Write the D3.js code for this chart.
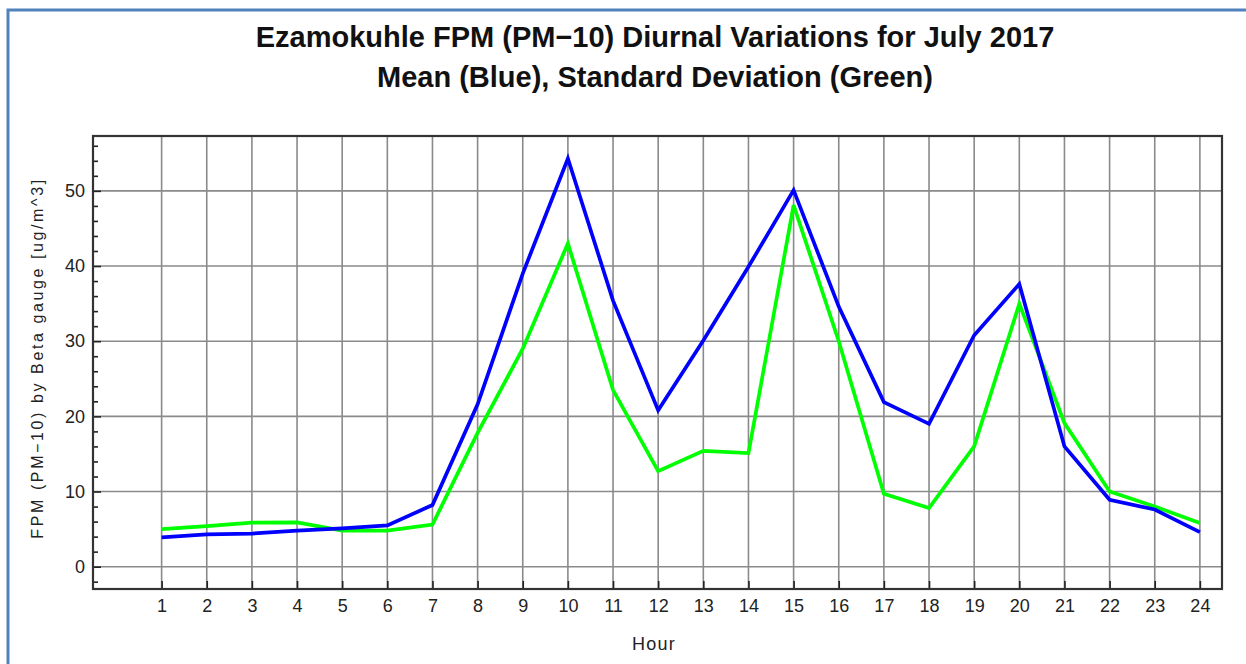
<!DOCTYPE html>
<html>
<head>
<meta charset="utf-8">
<script src="https://cdn.jsdelivr.net/npm/d3@7"></script>
<style>
  body { margin: 0; background: #fff; }
  svg { display: block; font-family: "Liberation Sans", Arial, sans-serif; }
</style>
</head>
<body>
<svg id="chart" width="1246" height="664"></svg>
<script>
const hours = [1,2,3,4,5,6,7,8,9,10,11,12,13,14,15,16,17,18,19,20,21,22,23,24];
const meanValues = [3.9, 4.3, 4.4, 4.8, 5.1, 5.5, 8.2, 21.6, 39.0, 54.3, 35.4, 20.8, 30.1, 39.9, 50.1, 34.6, 21.9, 19.0, 30.8, 37.6, 16.0, 8.9, 7.6, 4.6];
const stdValues  = [5.0, 5.4, 5.85, 5.9, 4.8, 4.8, 5.6, 17.8, 29.0, 43.0, 23.5, 12.7, 15.4, 15.1, 48.1, 30.0, 9.7, 7.8, 16.0, 35.0, 19.1, 10.0, 8.0, 5.8];
const yTickValues = [0, 10, 20, 30, 40, 50];
const yMinorTickValues = [-2, 2, 4, 6, 8, 12, 14, 16, 18, 22, 24, 26, 28, 32, 34, 36, 38, 42, 44, 46, 48, 52, 54, 56];
const titleLines = ["Ezamokuhle FPM (PM\u221210) Diurnal Variations for July 2017", "Mean (Blue), Standard Deviation (Green)"];
const xLabel = "Hour";
const yLabel = "FPM (PM\u221210) by Beta gauge  [ug/m^3]";

const svg = d3.select("#chart");
const L = 93, R = 1222, T = 136, B = 589;

// outer blue frame
svg.append("rect").attr("x", 8).attr("y", 10).attr("width", 1260).attr("height", 700)
  .attr("fill", "none").attr("stroke", "#4f81bd").attr("stroke-width", 3);

const x = d3.scaleLinear().domain([-0.52, 24.49]).range([L, R]);
const y = d3.scaleLinear().domain([-2.97, 57.3]).range([B, T]);

// grid
const g = svg.append("g");
g.selectAll(".vgrid").data(hours).join("line")
  .attr("x1", d => x(d)).attr("x2", d => x(d)).attr("y1", T).attr("y2", B)
  .attr("stroke", "#8a8a8a").attr("stroke-width", 1.6);
g.selectAll(".hgrid").data(yTickValues).join("line")
  .attr("x1", L).attr("x2", R).attr("y1", d => y(d)).attr("y2", d => y(d))
  .attr("stroke", "#8a8a8a").attr("stroke-width", 1.6);

const tickFont = "Liberation Sans, Arial, sans-serif";

// axes
const xAxis = d3.axisBottom(x).tickValues(hours).tickSize(-8).tickPadding(10).tickFormat(d3.format("d"));
const xg = svg.append("g").attr("transform", `translate(0,${B})`).call(xAxis);
xg.select(".domain").remove();
xg.selectAll(".tick line").attr("stroke", "#222").attr("stroke-width", 1.6);
xg.selectAll(".tick text").attr("font-size", 18).attr("fill", "#222").attr("font-family", tickFont);

const yAxis = d3.axisLeft(y).tickValues(yTickValues).tickSize(-8).tickPadding(8).tickFormat(d3.format("d"));
const yg = svg.append("g").attr("transform", `translate(${L},0)`).call(yAxis);
yg.select(".domain").remove();
yg.selectAll(".tick line").attr("stroke", "#222").attr("stroke-width", 1.6);
yg.selectAll(".tick text").attr("font-size", 18).attr("fill", "#222").attr("font-family", tickFont);

const yMinor = d3.axisLeft(y).tickValues(yMinorTickValues).tickSize(-5).tickFormat("");
const ym = svg.append("g").attr("transform", `translate(${L},0)`).call(yMinor);
ym.select(".domain").remove();
ym.selectAll(".tick line").attr("stroke", "#222").attr("stroke-width", 1.6);

// frame
svg.append("rect").attr("x", L).attr("y", T).attr("width", R - L).attr("height", B - T)
  .attr("fill", "none").attr("stroke", "#333").attr("stroke-width", 2.2);

// lines
const line = d3.line().x((d, i) => x(hours[i])).y(d => y(d));
svg.append("path").datum(stdValues).attr("d", line)
  .attr("fill", "none").attr("stroke", "#00ff00").attr("stroke-width", 3.7).attr("stroke-linejoin", "miter");
svg.append("path").datum(meanValues).attr("d", line)
  .attr("fill", "none").attr("stroke", "#0000ff").attr("stroke-width", 3.7).attr("stroke-linejoin", "miter");

// titles
svg.selectAll(".title").data(titleLines).join("text")
  .attr("x", 655).attr("y", (d, i) => 47 + i * 39.5)
  .attr("text-anchor", "middle").attr("font-weight", "bold").attr("font-size", 29)
  .attr("fill", "#111").text(d => d);

svg.append("text").attr("x", 654).attr("y", 650).attr("text-anchor", "middle")
  .attr("font-size", 18).attr("letter-spacing", 1.2).attr("fill", "#222").text(xLabel);

svg.append("text").attr("transform", "translate(43,358) rotate(-90)").attr("text-anchor", "middle")
  .attr("font-size", 16).attr("letter-spacing", 2.6).attr("fill", "#222").text(yLabel);
</script>
</body>
</html>
